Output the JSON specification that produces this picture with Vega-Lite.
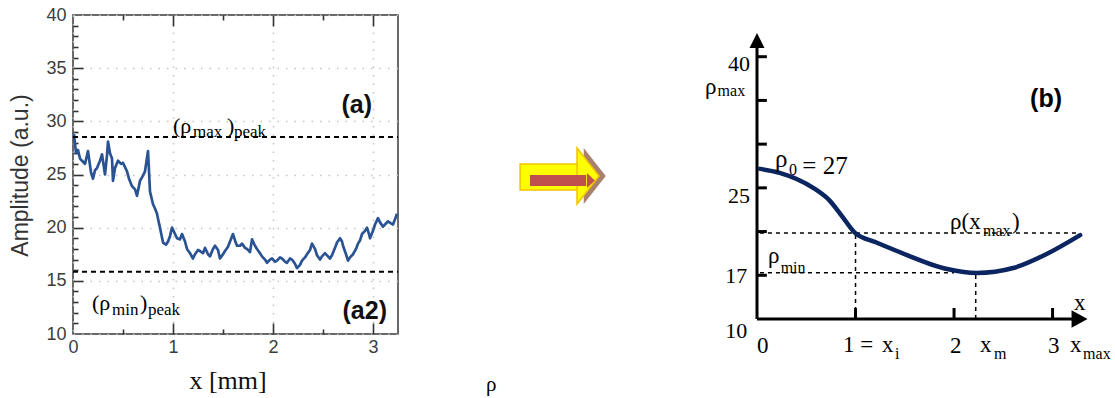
{
  "$schema": "https://vega.github.io/schema/vega-lite/v6.json",
  "background": "white",
  "padding": {"left": 8, "top": 5, "right": 0, "bottom": 0},
  "bounds": "flush",
  "spacing": 20,
  "config": {
    "view": {"stroke": null},
    "axis": {"gridColor": "#c4c4c4", "gridDash": [1.5, 7], "gridWidth": 1.5, "tickColor": "#333333", "tickWidth": 1.6}
  },
  "datasets": {
    "amp": [
      {"x":0.01,"a":28.8},{"x":0.03,"a":27.0},{"x":0.05,"a":27.3},{"x":0.07,"a":26.5},{"x":0.10,"a":26.2},{"x":0.12,"a":26.0},{"x":0.14,"a":26.8},{"x":0.15,"a":27.2},{"x":0.18,"a":25.2},{"x":0.20,"a":24.6},
      {"x":0.22,"a":25.4},{"x":0.24,"a":25.6},{"x":0.27,"a":26.3},{"x":0.29,"a":26.9},{"x":0.32,"a":25.0},{"x":0.34,"a":26.8},{"x":0.35,"a":28.1},{"x":0.37,"a":27.0},{"x":0.39,"a":26.5},{"x":0.40,"a":24.4},
      {"x":0.42,"a":25.6},{"x":0.45,"a":26.3},{"x":0.48,"a":26.0},{"x":0.50,"a":26.1},{"x":0.54,"a":25.3},{"x":0.56,"a":24.6},{"x":0.59,"a":23.9},{"x":0.62,"a":23.6},{"x":0.64,"a":23.0},{"x":0.67,"a":24.4},
      {"x":0.70,"a":24.9},{"x":0.72,"a":25.3},{"x":0.75,"a":27.2},{"x":0.77,"a":23.4},{"x":0.80,"a":22.2},{"x":0.82,"a":21.8},{"x":0.84,"a":21.3},{"x":0.86,"a":20.4},{"x":0.87,"a":20.0},{"x":0.90,"a":18.6},
      {"x":0.93,"a":18.4},{"x":0.95,"a":18.7},{"x":0.97,"a":19.2},{"x":0.99,"a":20.0},{"x":1.02,"a":19.4},{"x":1.04,"a":19.0},{"x":1.07,"a":18.9},{"x":1.09,"a":19.4},{"x":1.12,"a":18.7},{"x":1.14,"a":18.0},
      {"x":1.17,"a":17.6},{"x":1.20,"a":17.1},{"x":1.22,"a":17.5},{"x":1.25,"a":17.9},{"x":1.27,"a":17.8},{"x":1.30,"a":17.6},{"x":1.32,"a":18.1},{"x":1.35,"a":17.5},{"x":1.37,"a":17.3},{"x":1.40,"a":18.0},
      {"x":1.42,"a":18.3},{"x":1.45,"a":17.9},{"x":1.47,"a":17.1},{"x":1.50,"a":17.5},{"x":1.52,"a":17.8},{"x":1.55,"a":18.2},{"x":1.57,"a":18.7},{"x":1.60,"a":19.4},{"x":1.62,"a":18.8},{"x":1.64,"a":18.3},
      {"x":1.67,"a":18.3},{"x":1.69,"a":18.5},{"x":1.72,"a":18.1},{"x":1.74,"a":18.0},{"x":1.77,"a":17.7},{"x":1.79,"a":18.9},{"x":1.82,"a":18.3},{"x":1.84,"a":18.0},{"x":1.87,"a":17.6},{"x":1.89,"a":17.3},
      {"x":1.92,"a":17.0},{"x":1.94,"a":16.7},{"x":1.97,"a":17.0},{"x":1.99,"a":17.1},{"x":2.02,"a":16.8},{"x":2.04,"a":16.9},{"x":2.07,"a":17.2},{"x":2.09,"a":17.1},{"x":2.12,"a":16.8},{"x":2.14,"a":16.7},
      {"x":2.17,"a":17.1},{"x":2.19,"a":17.0},{"x":2.22,"a":16.6},{"x":2.24,"a":16.2},{"x":2.27,"a":16.5},{"x":2.29,"a":16.9},{"x":2.32,"a":17.2},{"x":2.34,"a":17.5},{"x":2.37,"a":17.9},{"x":2.39,"a":18.5},
      {"x":2.42,"a":18.0},{"x":2.44,"a":17.4},{"x":2.47,"a":17.0},{"x":2.49,"a":17.3},{"x":2.52,"a":17.6},{"x":2.54,"a":17.4},{"x":2.57,"a":17.1},{"x":2.59,"a":17.4},{"x":2.62,"a":18.1},{"x":2.64,"a":18.6},
      {"x":2.67,"a":19.0},{"x":2.69,"a":18.7},{"x":2.70,"a":18.3},{"x":2.73,"a":17.5},{"x":2.75,"a":16.9},{"x":2.77,"a":17.2},{"x":2.80,"a":17.5},{"x":2.83,"a":18.0},{"x":2.85,"a":18.5},{"x":2.87,"a":18.8},
      {"x":2.89,"a":19.4},{"x":2.92,"a":19.7},{"x":2.94,"a":20.0},{"x":2.96,"a":19.4},{"x":2.97,"a":19.0},{"x":3.00,"a":19.7},{"x":3.02,"a":20.3},{"x":3.05,"a":20.9},{"x":3.07,"a":20.5},{"x":3.10,"a":20.1},
      {"x":3.12,"a":20.3},{"x":3.15,"a":20.6},{"x":3.18,"a":20.4},{"x":3.20,"a":20.3},{"x":3.22,"a":20.8},{"x":3.24,"a":21.3}
    ],
    "levels": [{"y":28.52,"x0":0,"x1":3.25},{"y":15.85,"x0":0,"x1":3.25}],
    "lmain": [{"x":1.0,"y":28.9,"t":"(ρ"},{"x":1.54,"y":28.9,"t":")"},{"x":0.19,"y":12.3,"t":"(ρ"},{"x":0.67,"y":12.3,"t":")"}],
    "lsub": [{"x":1.2,"y":28.52,"t":"max"},{"x":1.61,"y":28.5,"t":"peak"},{"x":0.39,"y":11.8,"t":"min"},{"x":0.75,"y":11.75,"t":"peak"}],
    "lbold": [{"x":2.99,"y":30.78,"t":"(a)"},{"x":3.14,"y":11.4,"t":"(a2)"}],
    "body": [{"x0":32.0,"x1":50.8,"y0":54.1,"y1":60.9}],
    "inner": [{"x0":35.1,"x1":52.7,"y0":55.1,"y1":58.0}],
    "headShadow": [{"x":55.4,"y":57.74}],
    "head": [{"x":53.3,"y":57.74}],
    "innerTip": [{"x":54.2,"y":56.55}],
    "stray": [{"x":21.3,"y":1.3,"t":"ρ"}],
    "curve": [{"x":0.03,"y":27.17},{"x":0.23,"y":26.72},{"x":0.57,"y":25.0},{"x":0.74,"y":23.51},{"x":0.86,"y":21.8},{"x":0.995,"y":19.85},{"x":1.2,"y":18.8},{"x":1.42,"y":17.78},{"x":1.93,"y":15.72},{"x":2.23,"y":15.26},{"x":2.6,"y":15.83},{"x":2.94,"y":17.44},{"x":3.28,"y":19.6}],
    "segs": [{"x":0,"x2":0,"y":10,"y2":41.5},{"x":0,"x2":3.25,"y":10,"y2":10},
      {"x":0,"x2":0.1,"y":15,"y2":15},{"x":0,"x2":0.1,"y":20,"y2":20},{"x":0,"x2":0.1,"y":25,"y2":25},{"x":0,"x2":0.1,"y":30,"y2":30},{"x":0,"x2":0.1,"y":35,"y2":35},{"x":0,"x2":0.1,"y":40,"y2":40},
      {"x":1,"x2":1,"y":10,"y2":11.26},{"x":2,"x2":2,"y":10,"y2":11.26},{"x":3,"x2":3,"y":10,"y2":11.26}],
    "dashes": [{"x":0.03,"x2":3.27,"y":19.85,"y2":19.85},{"x":0.03,"x2":2.0,"y":15.3,"y2":15.3},{"x":1.0,"x2":1.0,"y":10,"y2":19.85},{"x":2.22,"x2":2.22,"y":10,"y2":15.3}],
    "arrowUp": [{"x":0,"y":41.85}],
    "arrowRight": [{"x":3.274,"y":10}],
    "rnum": [{"x":-0.071,"y":38.37,"t":"40"},{"x":-0.071,"y":23.27,"t":"25"},{"x":-0.10,"y":14.12,"t":"17"},{"x":-0.10,"y":7.83,"t":"10"}],
    "rmain": [{"x":-0.528,"y":35.73,"t":"ρ"},{"x":0.0,"y":6.11,"t":"0"},{"x":0.873,"y":6.23,"t":"1 ="},{"x":1.269,"y":6.23,"t":"x"},{"x":1.959,"y":6.11,"t":"2"},{"x":2.264,"y":6.23,"t":"x"},{"x":2.954,"y":6.11,"t":"3"},{"x":3.178,"y":6.23,"t":"x"},{"x":3.218,"y":11.03,"t":"x"},{"x":1.959,"y":20.29,"t":"ρ(x"},{"x":2.589,"y":20.29,"t":")"},{"x":0.112,"y":16.4,"t":"ρ"}],
    "rsub": [{"x":-0.4,"y":35.51,"t":"max"},{"x":1.401,"y":5.42,"t":"i"},{"x":2.406,"y":5.42,"t":"m"},{"x":3.31,"y":5.42,"t":"max"},{"x":2.294,"y":19.49,"t":"max"},{"x":0.24,"y":15.26,"t":"min"},{"x":0.325,"y":26.47,"t":"0"}],
    "rbig": [{"x":0.183,"y":27.39,"t":"ρ"},{"x":0.46,"y":26.58,"t":"= 27"}],
    "rbold": [{"x":3.096,"y":34.25,"t":"(b)"}]
  },
  "hconcat": [
    {
      "width": 325,
      "height": 319,
      "view": {"stroke": "#3a3a3a", "strokeWidth": 1.5},
      "resolve": {"axis": {"x": "independent", "y": "independent"}},
      "layer": [
        {
          "data": {"name": "amp"},
          "mark": {"type": "line", "color": "#2a5393", "strokeWidth": 2.7, "strokeJoin": "round"},
          "encoding": {
            "x": {"field": "x", "type": "quantitative", "scale": {"domain": [0, 3.25], "nice": false, "zero": false},
              "axis": {"orient": "bottom", "values": [0, 1, 2, 3], "ticks": false, "domain": false, "grid": true, "labelFlush": false, "labelPadding": 4,
                "labelFont": "Liberation Sans", "labelFontSize": 18, "labelColor": "#3c3c3c",
                "title": "x [mm]", "titleFont": "Liberation Serif", "titleFontSize": 26, "titleFontWeight": "normal", "titleColor": "#111111",
                "titleX": 154.5, "titleY": 54, "titleBaseline": "alphabetic", "titleAlign": "center"}},
            "y": {"field": "a", "type": "quantitative", "scale": {"domain": [10, 40], "nice": false, "zero": false},
              "axis": {"orient": "left", "values": [10, 15, 20, 25, 30, 35, 40], "ticks": false, "domain": false, "grid": true, "labelPadding": 7,
                "labelFont": "Liberation Sans", "labelFontSize": 18, "labelColor": "#3c3c3c",
                "title": "Amplitude (a.u.)", "titleFont": "Liberation Sans", "titleFontSize": 23, "titleFontWeight": "normal", "titleColor": "#333333",
                "titleX": -46, "titleY": 160, "titleAngle": -90, "titleAlign": "center", "titleBaseline": "alphabetic"}}
          }
        },
        {
          "data": {"name": "levels"},
          "mark": {"type": "rule", "color": "#000000", "strokeWidth": 2, "strokeDash": [5, 4]},
          "encoding": {
            "x": {"field": "x0", "type": "quantitative", "scale": {"domain": [0, 3.25], "nice": false, "zero": false},
              "axis": {"orient": "bottom", "values": [0.5, 1.5, 2.5], "tickSize": -5, "labels": false, "domain": false, "grid": false, "title": null}},
            "x2": {"field": "x1"},
            "y": {"field": "y", "type": "quantitative", "scale": {"domain": [10, 40], "nice": false, "zero": false},
              "axis": {"orient": "left", "values": [11,12,13,14,16,17,18,19,21,22,23,24,26,27,28,29,31,32,33,34,36,37,38,39], "tickSize": -5, "labels": false, "domain": false, "grid": false, "title": null}}
          }
        },
        {
          "data": {"name": "lmain"},
          "mark": {"type": "text", "font": "Liberation Serif", "fontSize": 22, "align": "left", "baseline": "alphabetic", "color": "#000000"},
          "encoding": {
            "x": {"field": "x", "type": "quantitative", "scale": {"domain": [0, 3.25], "nice": false, "zero": false},
              "axis": {"orient": "top", "values": [0.5, 1.5, 2.5], "tickSize": -5, "labels": false, "domain": false, "grid": false, "title": null}},
            "y": {"field": "y", "type": "quantitative", "scale": {"domain": [10, 40], "nice": false, "zero": false},
              "axis": {"orient": "left", "values": [15, 20, 25, 30, 35], "tickSize": -10, "labels": false, "domain": false, "grid": false, "title": null}},
            "text": {"field": "t"}
          }
        },
        {
          "data": {"name": "lsub"},
          "mark": {"type": "text", "font": "Liberation Serif", "fontSize": 17, "align": "left", "baseline": "alphabetic", "color": "#000000"},
          "encoding": {
            "x": {"field": "x", "type": "quantitative", "scale": {"domain": [0, 3.25], "nice": false, "zero": false},
              "axis": {"orient": "top", "values": [1, 2, 3], "tickSize": -11, "labels": false, "domain": false, "grid": false, "title": null}},
            "y": {"field": "y", "type": "quantitative", "scale": {"domain": [10, 40], "nice": false, "zero": false}, "axis": null},
            "text": {"field": "t"}
          }
        },
        {
          "data": {"name": "lbold"},
          "mark": {"type": "text", "font": "Liberation Sans", "fontSize": 25, "fontWeight": "bold", "align": "right", "baseline": "alphabetic", "color": "#111111"},
          "encoding": {
            "x": {"field": "x", "type": "quantitative", "scale": {"domain": [0, 3.25], "nice": false, "zero": false},
              "axis": {"orient": "bottom", "values": [1, 2, 3], "tickSize": -11, "labels": false, "domain": false, "grid": false, "title": null}},
            "y": {"field": "y", "type": "quantitative", "scale": {"domain": [10, 40], "nice": false, "zero": false}, "axis": null},
            "text": {"field": "t"}
          }
        }
      ]
    },
    {
      "width": 319,
      "height": 381,
      "view": {"stroke": null},
      "layer": [
        {
          "data": {"name": "headShadow"},
          "mark": {"type": "point", "shape": "M-0.393,-1L0.393,0L-0.393,1Z", "size": 3136, "filled": true, "color": "#a8806f", "opacity": 1},
          "encoding": {
            "x": {"field": "x", "type": "quantitative", "scale": {"domain": [0, 100], "nice": false, "zero": false}, "axis": null},
            "y": {"field": "y", "type": "quantitative", "scale": {"domain": [0, 100], "nice": false, "zero": false}, "axis": null}
          }
        },
        {
          "data": {"name": "body"},
          "mark": {"type": "rect", "fill": "#ffff00", "stroke": "#f2c200", "strokeWidth": 1.5},
          "encoding": {
            "x": {"field": "x0", "type": "quantitative", "scale": {"domain": [0, 100], "nice": false, "zero": false}, "axis": null},
            "x2": {"field": "x1"},
            "y": {"field": "y0", "type": "quantitative", "scale": {"domain": [0, 100], "nice": false, "zero": false}, "axis": null},
            "y2": {"field": "y1"}
          }
        },
        {
          "data": {"name": "head"},
          "mark": {"type": "point", "shape": "M-0.393,-1L0.393,0L-0.393,1Z", "size": 3136, "filled": true, "fill": "#ffff00", "stroke": "#f2c200", "strokeWidth": 1.5, "opacity": 1},
          "encoding": {
            "x": {"field": "x", "type": "quantitative", "scale": {"domain": [0, 100], "nice": false, "zero": false}, "axis": null},
            "y": {"field": "y", "type": "quantitative", "scale": {"domain": [0, 100], "nice": false, "zero": false}, "axis": null}
          }
        },
        {
          "data": {"name": "inner"},
          "mark": {"type": "rect", "fill": "#c0504d"},
          "encoding": {
            "x": {"field": "x0", "type": "quantitative", "scale": {"domain": [0, 100], "nice": false, "zero": false}, "axis": null},
            "x2": {"field": "x1"},
            "y": {"field": "y0", "type": "quantitative", "scale": {"domain": [0, 100], "nice": false, "zero": false}, "axis": null},
            "y2": {"field": "y1"}
          }
        },
        {
          "data": {"name": "innerTip"},
          "mark": {"type": "point", "shape": "M-0.53,-1L0.53,0L-0.53,1Z", "size": 225, "filled": true, "color": "#c0504d", "opacity": 1},
          "encoding": {
            "x": {"field": "x", "type": "quantitative", "scale": {"domain": [0, 100], "nice": false, "zero": false}, "axis": null},
            "y": {"field": "y", "type": "quantitative", "scale": {"domain": [0, 100], "nice": false, "zero": false}, "axis": null}
          }
        },
        {
          "data": {"name": "stray"},
          "mark": {"type": "text", "font": "Liberation Serif", "fontSize": 21, "align": "left", "baseline": "alphabetic", "color": "#000000"},
          "encoding": {
            "x": {"field": "x", "type": "quantitative", "scale": {"domain": [0, 100], "nice": false, "zero": false}, "axis": null},
            "y": {"field": "y", "type": "quantitative", "scale": {"domain": [0, 100], "nice": false, "zero": false}, "axis": null},
            "text": {"field": "t"}
          }
        }
      ]
    },
    {
      "width": 333,
      "height": 304,
      "view": {"stroke": null},
      "layer": [
        {
          "data": {"name": "dashes"},
          "mark": {"type": "rule", "color": "#000000", "strokeWidth": 1.5, "strokeDash": [4, 4]},
          "encoding": {
            "x": {"field": "x", "type": "quantitative", "scale": {"domain": [0, 3.38], "nice": false, "zero": false}, "axis": null},
            "x2": {"field": "x2"},
            "y": {"field": "y", "type": "quantitative", "scale": {"domain": [10, 44.77], "nice": false, "zero": false}, "axis": null},
            "y2": {"field": "y2"}
          }
        },
        {
          "data": {"name": "segs"},
          "mark": {"type": "rule", "color": "#000000", "strokeWidth": 3},
          "encoding": {
            "x": {"field": "x", "type": "quantitative", "scale": {"domain": [0, 3.38], "nice": false, "zero": false}, "axis": null},
            "x2": {"field": "x2"},
            "y": {"field": "y", "type": "quantitative", "scale": {"domain": [10, 44.77], "nice": false, "zero": false}, "axis": null},
            "y2": {"field": "y2"}
          }
        },
        {
          "data": {"name": "arrowUp"},
          "mark": {"type": "point", "shape": "M0,-1L-1,1L1,1Z", "size": 225, "filled": true, "color": "#000000", "opacity": 1},
          "encoding": {
            "x": {"field": "x", "type": "quantitative", "scale": {"domain": [0, 3.38], "nice": false, "zero": false}, "axis": null},
            "y": {"field": "y", "type": "quantitative", "scale": {"domain": [10, 44.77], "nice": false, "zero": false}, "axis": null}
          }
        },
        {
          "data": {"name": "arrowRight"},
          "mark": {"type": "point", "shape": "M1,0L-1,-1.1L-1,1.1Z", "size": 256, "filled": true, "color": "#000000", "opacity": 1},
          "encoding": {
            "x": {"field": "x", "type": "quantitative", "scale": {"domain": [0, 3.38], "nice": false, "zero": false}, "axis": null},
            "y": {"field": "y", "type": "quantitative", "scale": {"domain": [10, 44.77], "nice": false, "zero": false}, "axis": null}
          }
        },
        {
          "data": {"name": "curve"},
          "mark": {"type": "line", "color": "#0b2560", "strokeWidth": 4.5, "interpolate": "monotone", "strokeCap": "round"},
          "encoding": {
            "x": {"field": "x", "type": "quantitative", "scale": {"domain": [0, 3.38], "nice": false, "zero": false}, "axis": null},
            "y": {"field": "y", "type": "quantitative", "scale": {"domain": [10, 44.77], "nice": false, "zero": false}, "axis": null}
          }
        },
        {
          "data": {"name": "rnum"},
          "mark": {"type": "text", "font": "Liberation Serif", "fontSize": 22, "align": "right", "baseline": "alphabetic", "color": "#000000"},
          "encoding": {
            "x": {"field": "x", "type": "quantitative", "scale": {"domain": [0, 3.38], "nice": false, "zero": false}, "axis": null},
            "y": {"field": "y", "type": "quantitative", "scale": {"domain": [10, 44.77], "nice": false, "zero": false}, "axis": null},
            "text": {"field": "t"}
          }
        },
        {
          "data": {"name": "rmain"},
          "mark": {"type": "text", "font": "Liberation Serif", "fontSize": 23, "align": "left", "baseline": "alphabetic", "color": "#000000"},
          "encoding": {
            "x": {"field": "x", "type": "quantitative", "scale": {"domain": [0, 3.38], "nice": false, "zero": false}, "axis": null},
            "y": {"field": "y", "type": "quantitative", "scale": {"domain": [10, 44.77], "nice": false, "zero": false}, "axis": null},
            "text": {"field": "t"}
          }
        },
        {
          "data": {"name": "rsub"},
          "mark": {"type": "text", "font": "Liberation Serif", "fontSize": 16, "align": "left", "baseline": "alphabetic", "color": "#000000"},
          "encoding": {
            "x": {"field": "x", "type": "quantitative", "scale": {"domain": [0, 3.38], "nice": false, "zero": false}, "axis": null},
            "y": {"field": "y", "type": "quantitative", "scale": {"domain": [10, 44.77], "nice": false, "zero": false}, "axis": null},
            "text": {"field": "t"}
          }
        },
        {
          "data": {"name": "rbig"},
          "mark": {"type": "text", "font": "Liberation Serif", "fontSize": 25, "align": "left", "baseline": "alphabetic", "color": "#000000"},
          "encoding": {
            "x": {"field": "x", "type": "quantitative", "scale": {"domain": [0, 3.38], "nice": false, "zero": false}, "axis": null},
            "y": {"field": "y", "type": "quantitative", "scale": {"domain": [10, 44.77], "nice": false, "zero": false}, "axis": null},
            "text": {"field": "t"}
          }
        },
        {
          "data": {"name": "rbold"},
          "mark": {"type": "text", "font": "Liberation Sans", "fontSize": 25, "fontWeight": "bold", "align": "right", "baseline": "alphabetic", "color": "#000000"},
          "encoding": {
            "x": {"field": "x", "type": "quantitative", "scale": {"domain": [0, 3.38], "nice": false, "zero": false}, "axis": null},
            "y": {"field": "y", "type": "quantitative", "scale": {"domain": [10, 44.77], "nice": false, "zero": false}, "axis": null},
            "text": {"field": "t"}
          }
        }
      ]
    }
  ]
}
